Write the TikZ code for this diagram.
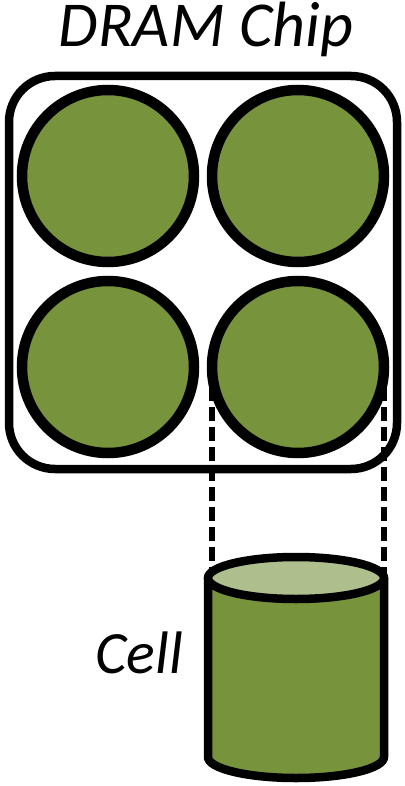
\documentclass[tikz,border=0pt]{standalone}
\usepackage{fontspec}
\setmainfont{Carlito}
\definecolor{cellgreen}{HTML}{77933C}
\definecolor{celllight}{HTML}{AEBE8C}

\begin{document}
\begin{tikzpicture}[x=1pt, y=1pt,
        bank/.style={circle, draw=black, line width=10.5pt, fill=cellgreen,
                     minimum size=172pt, inner sep=0pt, outer sep=0pt},
        label/.style={font=\fontsize{60}{60}\selectfont\itshape, inner sep=0pt},
        link/.style={line width=5.5pt, dash pattern=on 14pt off 6pt}]
        \useasboundingbox (0,0) rectangle (404,-786);

        % 1. Title and chip outline
        \node[label, font=\fontsize{64}{64}\selectfont\itshape, anchor=base] (title) at (206,-47) {DRAM Chip};
        \draw[line width=8.5pt, rounded corners=46pt] (9,-76) rectangle (397,-469);

        % 2. Dashed lines from the bank to the cell
        \coordinate (celltop) at (296,-578);
        \coordinate (cellbot) at (296,-757);
        \node[bank, draw=none, fill=none] (ghost) at (298,-367) {};
        \draw[link] (ghost.west) -- (ghost.west |- celltop);
        \draw[link] (ghost.east) -- (ghost.east |- celltop);

        % 3. The four banks
        \node[bank] (b11) at (108,-176) {};
        \node[bank] (b12) at (298,-176) {};
        \node[bank] (b21) at (108,-367) {};
        \node[bank] (b22) at (298,-367) {};

        % 4. The cell (cylinder)
        \fill[cellgreen] (208,-578) -- (208,-757)
            arc[start angle=180, end angle=360, x radius=88, y radius=21] -- (384,-578) -- cycle;
        \draw[line width=8.5pt, line join=round] (208,-578) -- (208,-757)
            arc[start angle=180, end angle=360, x radius=88, y radius=21] -- (384,-578);
        \draw[line width=8.5pt, fill=celllight] (celltop) ellipse[x radius=88, y radius=21];
        \node[label, anchor=base east] (cell) at (183,-673) {Cell};

    \end{tikzpicture}
\end{document}
